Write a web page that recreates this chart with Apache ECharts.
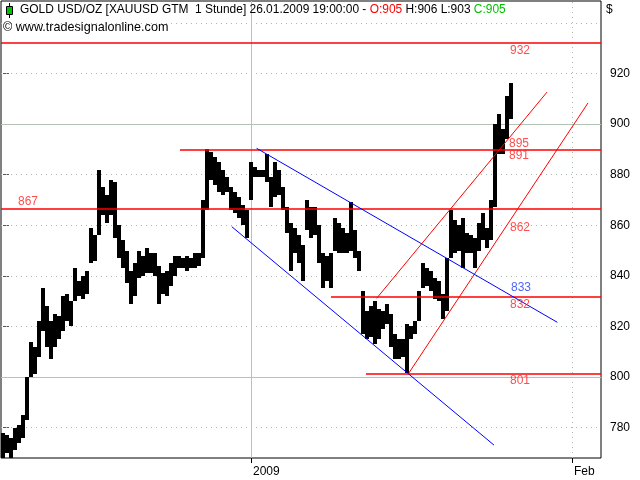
<!DOCTYPE html>
<html><head><meta charset="utf-8">
<script src="https://cdn.jsdelivr.net/npm/echarts@6/dist/echarts.min.js"></script>
<style>html,body{margin:0;padding:0;background:#fff}#c{width:640px;height:480px}</style>
</head><body><div id="c"></div>
<script>
// hourly gold bars, grouped: one slot per bar group (index = slot)
const barLow = [768,770,768,771,774,776,783,800,801,808,
818,812,807,812,815,818,822,820,830,832,
831,833,845,846,856,864,861,864,855,847,
843,837,829,832,839,840,841,841,840,829,
833,832,836,840,843,843,842,843,843,844,
847,866,878,876,873,872,873,866,865,863,
860,855,870,879,879,879,877,867,871,872,
866,857,842,849,845,838,858,855,856,845,
835,838,835,850,849,849,849,850,847,842,
817,815,816,813,815,819,821,812,807,807,
808,801.5,815,817,822,835,836,834,831,830,
823,826,847,849,850,843,849,849,843,850,
854,851,854,867,888,888,894,902];
const barHigh = [778,777,776,780,781,785,800,814,812,822,
835,828,822,825,824,832,833,830,843,838,
840,842,859,856,882,875,872,878,877,860,
854,850,842,845,850,848,851,849,849,844,
841,842,845,848,848,847,848,847,849,849,
870,890,889,887,885,882,879,875,873,871,
868,866,885,883,882,882,888,879,885,882,
875,867,861,859,856,852,870,867,867,860,
849,848,849,863,861,859,857,869,858,850,
834,826,828,830,827,826,829,825,817,815,
815,821,820,822,834,845,843,842,839,838,
833,847,866,862,860,863,857,856,855,861,
865,859,870,900,904,898,911,916];

const yTicks = [780,800,820,840,860,880,900,920];
const yDotted = [780,820,840,860,880,920,940];
const ySolid = [800,900];
const xTickPos = [62,142.25];
const xTickLabels = ['2009','Feb'];

// horizontal support/resistance levels: [fromSlot, level]
const redLevels = [[-0.5,932],[44.25,890],[-0.5,866.4],[82,831.6],[90.75,801.2]];
// trend lines: [[x1,y1],[x2,y2]]
const redTrends = [[[101.3,801.2],[146.25,908.3]],[[93.4,831.1],[136,912.6]]];
const blueTrends = [[[63.4,890.4],[138.6,821.6]],[[57.2,859.4],[122.75,773.1]]];
// level labels
const noteText = ['932','895','891','867','862','833','832','801'];
const noteX = [129.25,129,129,6.25,129.25,129.5,129.25,129.25];
const noteY = [929,892.1,887.4,869.2,858.9,835.2,828.5,798.4];
const noteBlue = [false,false,false,false,false,true,false,false];

const XMIN=-0.5, XMAX=149.5;
const RED='#ff0000', BLUE='#0000ff';
const FONT='"Liberation Sans", Arial, sans-serif';

const chart = echarts.init(document.getElementById('c'));
const barData = barLow.map((l,i)=>[i,l,barHigh[i]]);

const gridLines = [];
yDotted.forEach(v=>gridLines.push({yAxis:v,lineStyle:{color:'#a9b9a9',type:[1,4],width:1}}));
ySolid.forEach(v=>gridLines.push({yAxis:v,lineStyle:{color:'#b4c4b4',type:'solid',width:1}}));
gridLines.push({xAxis:xTickPos[0],lineStyle:{color:'#b4c4b4',type:'solid',width:1}});
gridLines.push({xAxis:xTickPos[1],lineStyle:{color:'#a9b9a9',type:[1,4],width:1}});

const levelLines = redLevels.map(l=>[{coord:[l[0],l[1]]},{coord:[XMAX,l[1]]}]);
const trendLines = redTrends.map(t=>[{coord:t[0],lineStyle:{color:RED}},{coord:t[1]}])
  .concat(blueTrends.map(t=>[{coord:t[0],lineStyle:{color:BLUE}},{coord:t[1]}]));

const TF = '11.95px '+FONT;
chart.setOption({
  animation:false,
  backgroundColor:'#fff',
  grid:{left:1,right:39,top:1,bottom:22,show:true,borderColor:'#000',borderWidth:1,backgroundColor:'transparent'},
  graphic:[
    {type:'line',shape:{x1:9.5,y1:3,x2:9.5,y2:18},style:{stroke:'#000',lineWidth:1},z:100},
    {type:'rect',shape:{x:6.5,y:6.5,width:6,height:8},style:{fill:'#00c000',stroke:'#000',lineWidth:1},z:100},
    {type:'text',x:20,y:10,z:100,style:{
      text:'{k|GOLD USD/OZ [XAUUSD GTM  1 Stunde] 26.01.2009 19:00:00 - }{r|O:905}{k| H:906 L:903 }{g|C:905}',
      verticalAlign:'middle',
      rich:{
        k:{fill:'#000',font:TF},
        r:{fill:'#ff0000',font:TF},
        g:{fill:'#00c000',font:TF}
      }}},
    {type:'text',x:3,y:28,z:100,style:{text:'© www.tradesignalonline.com',fill:'#000',font:'12.6px '+FONT,verticalAlign:'middle'}},
    {type:'text',x:606,y:10,z:100,style:{text:'$',fill:'#000',font:'12px '+FONT,verticalAlign:'middle'}}
  ],
  xAxis:{type:'value',min:XMIN,max:XMAX,
    axisLine:{show:false},splitLine:{show:false},
    axisTick:{show:true,customValues:xTickPos,length:5,lineStyle:{color:'#000'}},
    axisLabel:{customValues:xTickPos,color:'#000',fontSize:12,fontFamily:FONT,align:'left',margin:8,padding:[0,0,0,2],
      formatter:v=>{const i=xTickPos.indexOf(v);return i>=0?xTickLabels[i]:'';}}
  },
  yAxis:{type:'value',position:'right',min:768,max:948.6,
    axisLine:{show:false},splitLine:{show:false},
    axisTick:{show:true,customValues:yTicks,length:6,lineStyle:{color:'#555'}},
    axisLabel:{customValues:yTicks,color:'#000',fontSize:12,fontFamily:FONT,margin:9}
  },
  series:[
    {type:'line',data:[],silent:true,z:1,
      markLine:{silent:true,z:1,symbol:'none',label:{show:false},data:gridLines,animation:false}},
    {type:'custom',data:barData,silent:true,clip:true,
      renderItem:(params,api)=>{
        const x=api.value(0), lo=api.value(1), hi=api.value(2);
        const p1=api.coord([x,hi]), p2=api.coord([x,lo]);
        const w=api.size([1,0])[0];
        const x0=Math.round(p1[0]-w/2), x1=Math.round(p1[0]+w/2);
        const y0=Math.round(p1[1]), y1=Math.max(y0+1,Math.round(p2[1]));
        return {type:'rect',shape:{x:x0,y:y0,width:x1-x0,height:y1-y0},style:{fill:'#000',stroke:null,lineWidth:0}};
      },z:3},
    {type:'line',data:[],silent:true,z:4,
      markLine:{silent:true,z:6,symbol:'none',label:{show:false},lineStyle:{color:RED,type:'solid',width:1.5},data:levelLines,animation:false}},
    {type:'line',data:[],silent:true,z:4,
      markLine:{silent:true,z:6,symbol:'none',label:{show:false},lineStyle:{type:'solid',width:1},data:trendLines,animation:false}},
    {type:'scatter',symbolSize:0,silent:true,z:7,
      data:noteText.map((t,i)=>({value:[noteX[i],noteY[i]],name:t,
        label:{show:true,position:'inside',formatter:t,color:noteBlue[i]?'#2040ff':'#ff2020',fontSize:12,fontFamily:FONT}}))}
  ]
});
</script></body></html>
